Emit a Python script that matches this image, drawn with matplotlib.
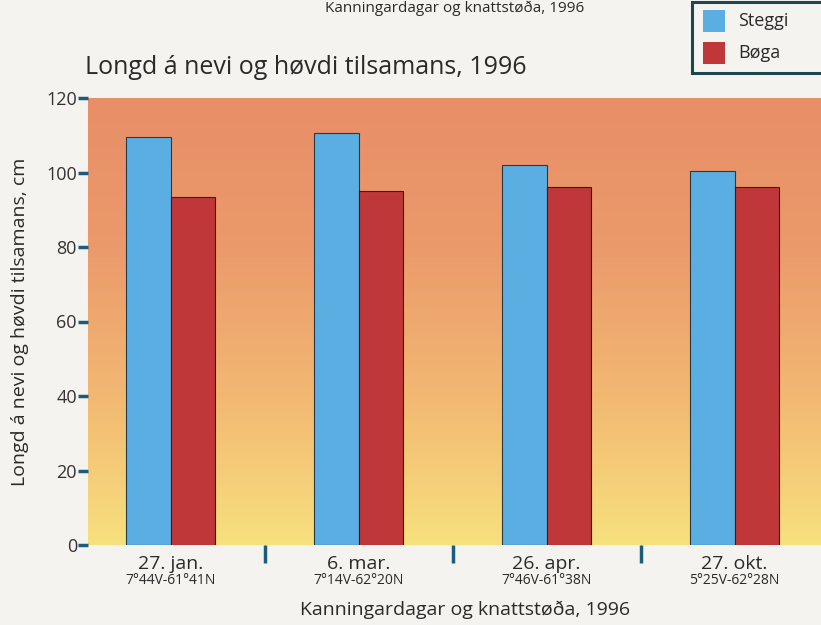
import numpy as np
import matplotlib
matplotlib.use("Agg")
import matplotlib.pyplot as plt
from matplotlib.colors import LinearSegmentedColormap
from matplotlib.patches import Rectangle

plt.rcParams['font.family'] = ['Open Sans', 'DejaVu Sans']

dates = ["27. jan.", "6. mar.", "26. apr.", "27. okt."]
positions = ["7°44V-61°41N", "7°14V-62°20N", "7°46V-61°38N", "5°25V-62°28N"]
steggi = [109.5, 110.5, 102.0, 100.5]
boga = [93.5, 95.0, 96.0, 96.0]
yticks = [0, 20, 40, 60, 80, 100, 120]

BG = "#F5F3EF"
BLUE = "#5BAEE2"
RED = "#C0373A"
TICK = "#1E5A7A"
TXT = "#2A2A2A"

fig = plt.figure(figsize=(8.21, 6.25), dpi=100, facecolor=BG)
ax = fig.add_axes([88/821, 80/625, 1 - 88/821, (545-98)/625])
ax.set_facecolor(BG)

x = np.arange(len(dates))
w = 0.238
ax.set_xlim(-0.44, 3.46)
ax.set_ylim(0, 120)

cmap = LinearSegmentedColormap.from_list("bg", ["#F7E07E", "#F2B872", "#EB9A6B", "#E88E68"])
grad = np.linspace(0, 1, 256).reshape(-1, 1)
ax.imshow(grad, aspect='auto', cmap=cmap, origin='lower',
          extent=[-0.44, 3.46, 0, 120], zorder=0)

ax.bar(x - w/2, steggi, w, color=BLUE, edgecolor="#2a3a45", linewidth=0.8, zorder=2)
ax.bar(x + w/2, boga, w, color=RED, edgecolor="#3a1a1a", linewidth=0.8, zorder=2)

for s in ax.spines.values():
    s.set_visible(False)

ax.set_yticks(yticks)
ax.set_yticklabels([str(v) for v in yticks], fontsize=13, color="#333333")
ax.tick_params(axis='y', length=7, width=2.5, color=TICK, pad=1)

ax.set_xticks(x)
ax.set_xticklabels([f"{d}" for d in dates], fontsize=14, color=TXT)
ax.tick_params(axis='x', which='major', length=0, pad=7)
ax.set_xticks([0.5, 1.5, 2.5], minor=True)
ax.tick_params(axis='x', which='minor', length=13, width=2.5, color=TICK, direction='out')

for xi, p in zip(x, positions):
    ax.text(xi, -9.5, p, ha='center', va='center', fontsize=10, color=TXT)

ax.set_ylabel("Longd á nevi og høvdi tilsamans, cm", fontsize=14, color=TXT, labelpad=12)
fig.text(465/821, 1 - 610/625, "Kanningardagar og knattstøða, 1996",
         ha='center', va='center', fontsize=14, color=TXT)

fig.text(85/821, 1 - 67/625, "Longd á nevi og høvdi tilsamans, 1996",
         ha='left', va='center', fontsize=18, color=TXT)

# small duplicate label at very top
fig.text(455/821, 1 - 1/625, "Kanningardagar og knattstøða, 1996",
         ha='center', va='top', fontsize=11, color=TXT)

# legend box
lx0, ly0 = 692/821, 1 - 73/625
fig.patches.append(Rectangle((lx0, ly0), 140/821, 71/625, transform=fig.transFigure,
                             facecolor=BG, edgecolor="#1E4550", linewidth=2.2))
fig.patches.append(Rectangle((703/821, 1 - 32/625), 22/821, 22/625, transform=fig.transFigure,
                             facecolor=BLUE, edgecolor='none'))
fig.patches.append(Rectangle((703/821, 1 - 64/625), 22/821, 22/625, transform=fig.transFigure,
                             facecolor=RED, edgecolor='none'))
fig.text(738/821, 1 - 21/625, "Steggi", ha='left', va='center', fontsize=13, color=TXT)
fig.text(738/821, 1 - 53/625, "Bøga", ha='left', va='center', fontsize=13, color=TXT)

fig.savefig("out.png", dpi=100, facecolor=BG)
